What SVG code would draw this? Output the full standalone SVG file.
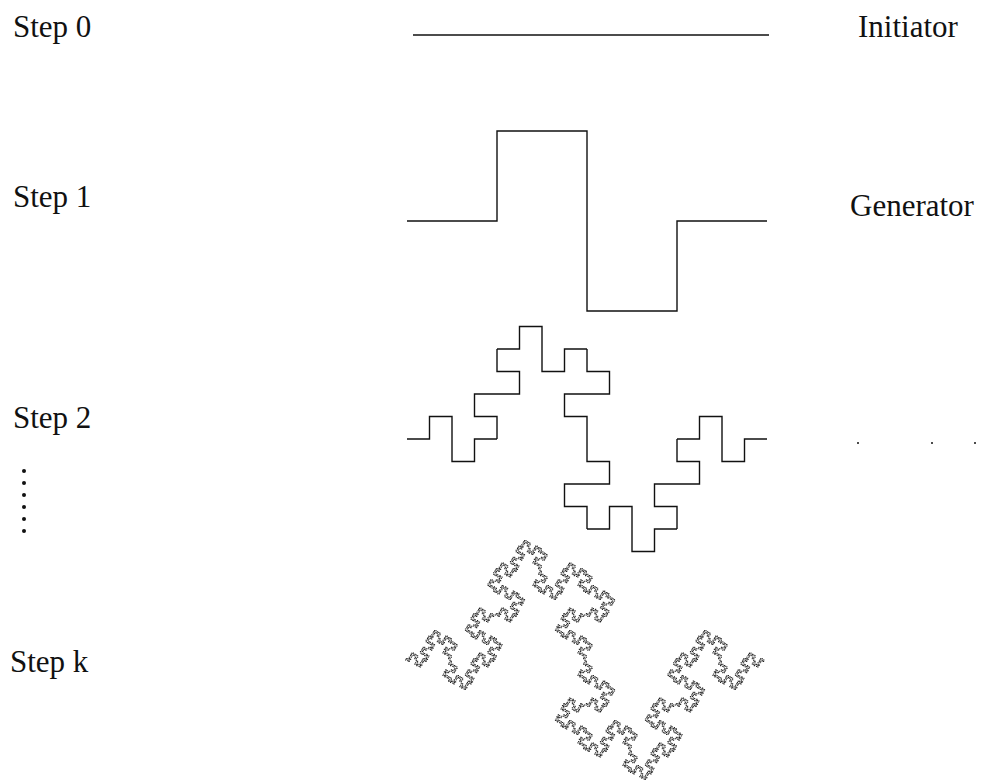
<svg xmlns="http://www.w3.org/2000/svg" xmlns:xlink="http://www.w3.org/1999/xlink" width="984" height="783" viewBox="0 0 984 783">
<style>
.lbl{font-family:"Liberation Serif","Times New Roman",serif;font-size:31px;fill:#111}
.frac{fill:none;vector-effect:non-scaling-stroke}
</style>
<defs>
<path id="g1" class="frac" d="M0,0 H0.25 V-0.25 H0.5 V0.25 H0.75 V0 H1"/>
<g id="g2">
<use href="#g1" xlink:href="#g1" transform="translate(0,0) scale(0.25)"/>
<use href="#g1" xlink:href="#g1" transform="translate(0.25,0) rotate(-90) scale(0.25)"/>
<use href="#g1" xlink:href="#g1" transform="translate(0.25,-0.25) scale(0.25)"/>
<use href="#g1" xlink:href="#g1" transform="translate(0.5,-0.25) rotate(90) scale(0.25)"/>
<use href="#g1" xlink:href="#g1" transform="translate(0.5,0) rotate(90) scale(0.25)"/>
<use href="#g1" xlink:href="#g1" transform="translate(0.5,0.25) scale(0.25)"/>
<use href="#g1" xlink:href="#g1" transform="translate(0.75,0.25) rotate(-90) scale(0.25)"/>
<use href="#g1" xlink:href="#g1" transform="translate(0.75,0) scale(0.25)"/>
</g>
<g id="g3">
<use href="#g2" xlink:href="#g2" transform="translate(0,0) scale(0.25)"/>
<use href="#g2" xlink:href="#g2" transform="translate(0.25,0) rotate(-90) scale(0.25)"/>
<use href="#g2" xlink:href="#g2" transform="translate(0.25,-0.25) scale(0.25)"/>
<use href="#g2" xlink:href="#g2" transform="translate(0.5,-0.25) rotate(90) scale(0.25)"/>
<use href="#g2" xlink:href="#g2" transform="translate(0.5,0) rotate(90) scale(0.25)"/>
<use href="#g2" xlink:href="#g2" transform="translate(0.5,0.25) scale(0.25)"/>
<use href="#g2" xlink:href="#g2" transform="translate(0.75,0.25) rotate(-90) scale(0.25)"/>
<use href="#g2" xlink:href="#g2" transform="translate(0.75,0) scale(0.25)"/>
</g>
<g id="g4">
<use href="#g3" xlink:href="#g3" transform="translate(0,0) scale(0.25)"/>
<use href="#g3" xlink:href="#g3" transform="translate(0.25,0) rotate(-90) scale(0.25)"/>
<use href="#g3" xlink:href="#g3" transform="translate(0.25,-0.25) scale(0.25)"/>
<use href="#g3" xlink:href="#g3" transform="translate(0.5,-0.25) rotate(90) scale(0.25)"/>
<use href="#g3" xlink:href="#g3" transform="translate(0.5,0) rotate(90) scale(0.25)"/>
<use href="#g3" xlink:href="#g3" transform="translate(0.5,0.25) scale(0.25)"/>
<use href="#g3" xlink:href="#g3" transform="translate(0.75,0.25) rotate(-90) scale(0.25)"/>
<use href="#g3" xlink:href="#g3" transform="translate(0.75,0) scale(0.25)"/>
</g>
</defs>
<rect width="984" height="783" fill="#fff"/>
<g id="labels">
<text class="lbl" x="13" y="37">Step 0</text>
<text class="lbl" x="13" y="207">Step 1</text>
<text class="lbl" x="13" y="428">Step 2</text>
<text class="lbl" x="10" y="672">Step k</text>
<text class="lbl" x="858" y="37">Initiator</text>
<text class="lbl" x="850" y="216">Generator</text>
</g>
<g id="step0">
<line x1="413" y1="35" x2="769" y2="35" stroke="#111" stroke-width="1.3"/>
</g>
<g id="step1" stroke="#111" stroke-width="1.4">
<use href="#g1" xlink:href="#g1" transform="translate(407,221) scale(360)"/>
</g>
<g id="step2" stroke="#111" stroke-width="1.4">
<use href="#g2" xlink:href="#g2" transform="translate(407,439) scale(360)"/>
</g>
<g id="stepk" stroke="#222" stroke-width="1.1" stroke-dasharray="1.2 0.7">
<use href="#g4" xlink:href="#g4" transform="translate(405,660) scale(360)"/>
</g>
<g id="dots" fill="#111">
<circle cx="24" cy="471" r="2"/>
<circle cx="24" cy="483" r="2"/>
<circle cx="24" cy="495" r="2"/>
<circle cx="24" cy="507" r="2"/>
<circle cx="24" cy="519" r="2"/>
<circle cx="24" cy="531" r="2"/>
<circle cx="858" cy="443" r="1"/>
<circle cx="932" cy="443" r="1"/>
<circle cx="975" cy="443" r="1"/>
</g>
</svg>
